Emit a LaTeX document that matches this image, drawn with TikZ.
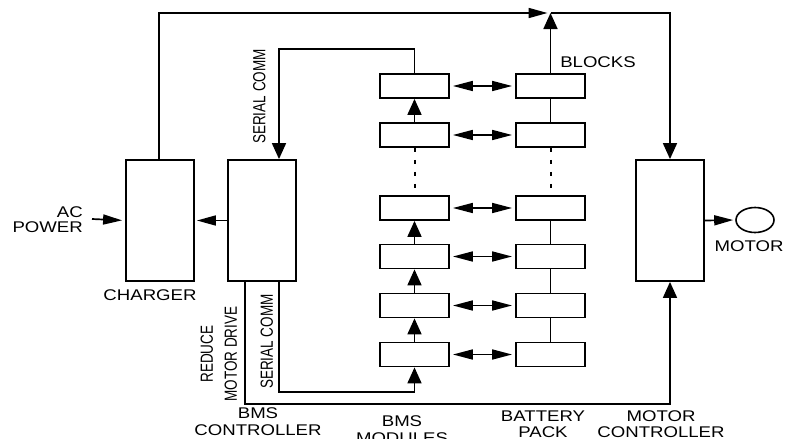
\documentclass[tikz,border=0pt]{standalone}
\usepackage{fontspec}
\newfontfamily\labfont[FakeStretch=1.2]{Liberation Sans}
\newfontfamily\rlabfont{Liberation Sans}
\usetikzlibrary{arrows.meta,shapes.geometric}
\newcommand{\vlab}[1]{\scalebox{1}[1.3]{\fontsize{13.5}{18.5}\rlabfont\begin{tabular}{@{}c@{}}#1\end{tabular}}}
\begin{document}
\begin{tikzpicture}[x=1pt,y=-1pt,
  wire/.style={line width=1.7pt},
  box/.style={draw,line width=1.8pt,inner sep=0pt},
  bigbox/.style={box,minimum width=68pt,minimum height=121pt},
  cell/.style={box,minimum width=69pt,minimum height=24pt},
  harr/.style={wire,-{Triangle[length=19pt,width=10pt]}},
  varr/.style={wire,-{Triangle[length=16pt,width=14pt]}},
  barr/.style={wire,{Triangle[length=20pt,width=10pt]}-{Triangle[length=20pt,width=10pt]},shorten <=3pt,shorten >=3pt},
  dots/.style={line width=2pt,dash pattern=on 4pt off 8pt},
  lab/.style={font=\fontsize{15.5}{15.5}\labfont,align=center,inner sep=0pt},
  vl/.style={rotate=90,inner sep=0pt}
]
\useasboundingbox (0,0) rectangle (796,439);
\fill[white] (0,0) rectangle (796,439);

% main boxes
\node[bigbox] (chg) at (160,220.5) {};
\node[bigbox] (bms) at (262,220.5) {};
\node[bigbox] (mc) at (670,220.5) {};
\node[draw,line width=1.6pt,ellipse,minimum width=38pt,minimum height=25pt,inner sep=0pt] (mot) at (755,220) {};

% module and battery cells
\foreach \i/\yy in {1/86,2/135,3/208,4/256.5,5/305.5,6/354.5}{
  \node[cell] (m\i) at (414.5,\yy) {};
  \node[cell] (b\i) at (550.5,\yy) {};
  \draw[barr] (m\i.east) -- (b\i.west);
}

% chain connections
\draw[varr] (m2.north) -- (m1.south);
\draw[varr] (m4.north) -- (m3.south);
\draw[varr] (m5.north) -- (m4.south);
\draw[varr] (m6.north) -- (m5.south);
\draw[dots] (m2.south) -- (m3.north);
\draw[dots] (b2.south) -- (b3.north);
\draw[wire] (b1.south) -- (b2.north);
\draw[wire] (b3.south) -- (b4.north);
\draw[wire] (b4.south) -- (b5.north);
\draw[wire] (b5.south) -- (b6.north);

% top power lines
\coordinate (jn) at (550.5,13);
\coordinate (acin) at (92,219);
\draw[harr,shorten >=3pt] ([xshift=-1pt]chg.north) |- (jn);
\draw[varr] (b1.north) -- (jn);
\draw[varr] (jn) -| (mc.north);

% serial comm lines
\draw[varr] (m1.north) -- ++(0,-24) -| ([xshift=17pt]bms.north);
\draw[varr] ([xshift=17pt]bms.south) -- ++(0,110) -| (m6.south);
\draw[varr] ([xshift=-17pt]bms.south) -- ++(0,122) -| (mc.south);

% side arrows
\draw[harr,shorten >=3pt] (acin) -- (chg.west);
\draw[harr,shorten >=2pt] (bms.west) -- (chg.east);
\draw[harr,shorten >=2pt] (mc.east) -- (mot.west);

% labels
\node[lab,align=right,anchor=east] (acl) at (83,219.5) {AC\\POWER};
\node[lab] (chgl) at (150,295) {CHARGER};
\node[lab,font=\fontsize{15.5}{17}\labfont] (bmsl) at (258,421.5) {BMS\\CONTROLLER};
\node[lab,font=\fontsize{15.5}{16.5}\labfont] (modl) at (402,429.5) {BMS\\MODULES};
\node[lab] (batl) at (543,424) {BATTERY\\PACK};
\node[lab] (mcl) at (661,424) {MOTOR\\CONTROLLER};
\node[lab] (motl) at (749,246) {MOTOR};
\node[lab] (blk) at (598,62) {BLOCKS};
\node[vl] (sc1) at (260.5,96.5) {\vlab{SERIAL COMM}};
\node[vl] (sc2) at (268,341.5) {\vlab{SERIAL COMM}};
\node[vl] (rmd) at (220,354) {\vlab{REDUCE\\MOTOR DRIVE}};
\end{tikzpicture}
\end{document}
